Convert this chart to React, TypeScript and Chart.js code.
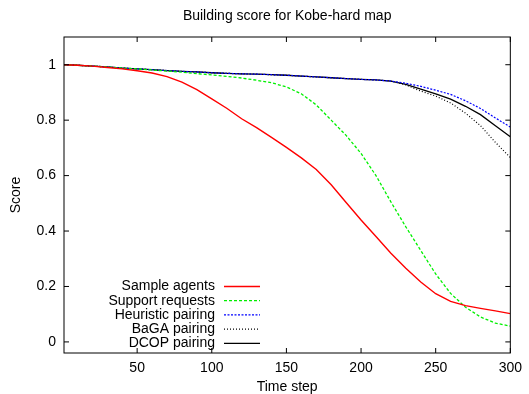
import React, { useEffect, useRef } from 'react';
import { Chart, registerables } from 'chart.js';

Chart.register(...registerables);

const TITLE = 'Building score for Kobe-hard map';
const X_LABEL = 'Time step';
const Y_LABEL = 'Score';

const timeSteps = [1, 10, 20, 30, 40, 50, 60, 70, 80, 90, 100, 110, 120, 130, 140, 150, 160, 170, 180, 190, 200, 210, 220, 230, 240, 250, 260, 270, 280, 290, 300];

const sampleAgents = [1.0, 0.998, 0.995, 0.99, 0.985, 0.978, 0.97, 0.957, 0.937, 0.91, 0.877, 0.843, 0.805, 0.773, 0.738, 0.702, 0.664, 0.622, 0.567, 0.503, 0.44, 0.38, 0.32, 0.266, 0.216, 0.174, 0.146, 0.131, 0.121, 0.112, 0.102];

const supportRequests = [1.0, 0.998, 0.995, 0.992, 0.988, 0.985, 0.981, 0.977, 0.973, 0.968, 0.963, 0.958, 0.952, 0.944, 0.935, 0.92, 0.895, 0.855, 0.8, 0.745, 0.68, 0.6, 0.505, 0.415, 0.33, 0.245, 0.175, 0.125, 0.09, 0.068, 0.057];

const heuristicPairing = [1.0, 0.998, 0.995, 0.992, 0.988, 0.985, 0.982, 0.979, 0.976, 0.974, 0.971, 0.969, 0.967, 0.966, 0.964, 0.962, 0.959, 0.956, 0.953, 0.95, 0.947, 0.945, 0.941, 0.933, 0.922, 0.908, 0.893, 0.87, 0.842, 0.808, 0.775];

const bagaPairing = [1.0, 0.998, 0.995, 0.992, 0.988, 0.985, 0.982, 0.979, 0.976, 0.974, 0.971, 0.969, 0.967, 0.966, 0.964, 0.962, 0.959, 0.956, 0.953, 0.95, 0.947, 0.945, 0.941, 0.927, 0.905, 0.887, 0.862, 0.825, 0.78, 0.72, 0.665];

const dcopPairing = [1.0, 0.998, 0.995, 0.992, 0.988, 0.985, 0.982, 0.979, 0.976, 0.974, 0.971, 0.969, 0.967, 0.966, 0.964, 0.962, 0.959, 0.956, 0.953, 0.95, 0.947, 0.945, 0.941, 0.929, 0.912, 0.895, 0.876, 0.85, 0.82, 0.78, 0.74];

const seriesNames = ['Sample agents', 'Support requests', 'Heuristic pairing', 'BaGA pairing', 'DCOP pairing'];

const xTicks = [50, 100, 150, 200, 250, 300];
const yTicks = [0, 0.2, 0.4, 0.6, 0.8, 1];
const yTickLabels = ['0', '0.2', '0.4', '0.6', '0.8', '1'];

const FONT = 'Liberation Sans';
const FS = 14;

const toPoints = (ys: number[]) => timeSteps.map((x, i) => ({ x, y: ys[i] }));

const framePlugin = {
  id: 'gnuplotFrame',
  afterDatasetsDraw(chart: any) {
    const { ctx, chartArea: a, scales } = chart;
    const tl = 5;
    ctx.save();
    ctx.strokeStyle = '#000';
    ctx.lineWidth = 1;
    ctx.strokeRect(a.left, a.top, a.right - a.left, a.bottom - a.top);
    ctx.beginPath();
    xTicks.forEach((v) => {
      const px = scales.x.getPixelForValue(v);
      ctx.moveTo(px, a.bottom);
      ctx.lineTo(px, a.bottom - tl);
      ctx.moveTo(px, a.top);
      ctx.lineTo(px, a.top + tl);
    });
    yTicks.forEach((v) => {
      const py = scales.y.getPixelForValue(v);
      ctx.moveTo(a.left, py);
      ctx.lineTo(a.left + tl, py);
      ctx.moveTo(a.right, py);
      ctx.lineTo(a.right - tl, py);
    });
    ctx.stroke();

    // title centred over the plot area
    ctx.fillStyle = '#000';
    ctx.font = `${FS}px "${FONT}"`;
    ctx.textAlign = 'center';
    ctx.textBaseline = 'middle';
    ctx.fillText(TITLE, (a.left + a.right) / 2, a.top - 21);

    // legend (gnuplot style: right-aligned text, sample line to the right)
    const textRight = a.left + 151;
    const lineStart = a.left + 160;
    const lineEnd = a.left + 196;
    const firstRow = a.top + 249.5;
    const rowGap = 14.2;
    ctx.textAlign = 'right';
    chart.data.datasets.forEach((ds: any, i: number) => {
      const y = firstRow + i * rowGap;
      ctx.fillStyle = '#000';
      ctx.fillText(ds.label, textRight, y);
      ctx.beginPath();
      ctx.strokeStyle = ds.borderColor;
      ctx.lineWidth = ds.borderWidth;
      ctx.setLineDash(ds.borderDash || []);
      ctx.moveTo(lineStart, y);
      ctx.lineTo(lineEnd, y);
      ctx.stroke();
      ctx.setLineDash([]);
    });
    ctx.restore();
  },
};

export default function App() {
  const canvasRef = useRef<HTMLCanvasElement | null>(null);

  useEffect(() => {
    if (!canvasRef.current) return;
    const chart = new Chart(canvasRef.current, {
      type: 'line',
      data: {
        datasets: [
          { label: seriesNames[0], data: toPoints(sampleAgents), borderColor: '#ff0000', borderWidth: 1.4, borderDash: [] },
          { label: seriesNames[1], data: toPoints(supportRequests), borderColor: '#00f000', borderWidth: 1.3, borderDash: [3, 2] },
          { label: seriesNames[2], data: toPoints(heuristicPairing), borderColor: '#0000ff', borderWidth: 1.2, borderDash: [2, 1.5] },
          { label: seriesNames[3], data: toPoints(bagaPairing), borderColor: '#000000', borderWidth: 1.2, borderDash: [1, 2] },
          { label: seriesNames[4], data: toPoints(dcopPairing), borderColor: '#000000', borderWidth: 1.3, borderDash: [] },
        ],
      },
      options: {
        responsive: false,
        animation: false,
        events: [],
        elements: { point: { radius: 0 }, line: { tension: 0 } },
        layout: { padding: { top: 37, left: 0, right: 13, bottom: 0 } },
        plugins: {
          legend: { display: false },
          tooltip: { enabled: false },
          title: { display: false },
        },
        scales: {
          x: {
            type: 'linear',
            min: 1,
            max: 300,
            grid: { display: false, drawTicks: false },
            border: { display: false },
            afterBuildTicks: (s: any) => {
              s.ticks = xTicks.map((v) => ({ value: v }));
            },
            afterFit: (s: any) => {
              s.height = 41;
            },
            ticks: {
              color: '#000',
              font: { family: FONT, size: FS },
              padding: 7,
              maxRotation: 0,
              autoSkip: false,
              callback: (v: any) => String(v),
            },
            title: {
              display: true,
              text: X_LABEL,
              color: '#000',
              font: { family: FONT, size: FS },
              padding: { top: 0, bottom: -1.3 },
            },
          },
          y: {
            type: 'linear',
            min: -0.04,
            max: 1.1,
            grid: { display: false, drawTicks: false },
            border: { display: false },
            afterBuildTicks: (s: any) => {
              s.ticks = yTicks.map((v) => ({ value: v }));
            },
            afterFit: (s: any) => {
              s.width = 64;
            },
            ticks: {
              color: '#000',
              font: { family: FONT, size: FS },
              padding: 8,
              autoSkip: false,
              callback: (v: any) => {
                const i = yTicks.indexOf(v);
                return i >= 0 ? yTickLabels[i] : String(v);
              },
            },
            title: {
              display: true,
              text: Y_LABEL,
              color: '#000',
              font: { family: FONT, size: FS },
              padding: { top: 7.5, bottom: 0 },
            },
          },
        },
      },
      plugins: [framePlugin],
    } as any);
    return () => chart.destroy();
  }, []);

  return (
    <div style={{ position: 'absolute', left: 0, top: 0, width: 529, height: 394, background: '#fff' }}>
      <canvas ref={canvasRef} width={529} height={394} style={{ display: 'block' }} />
    </div>
  );
}
